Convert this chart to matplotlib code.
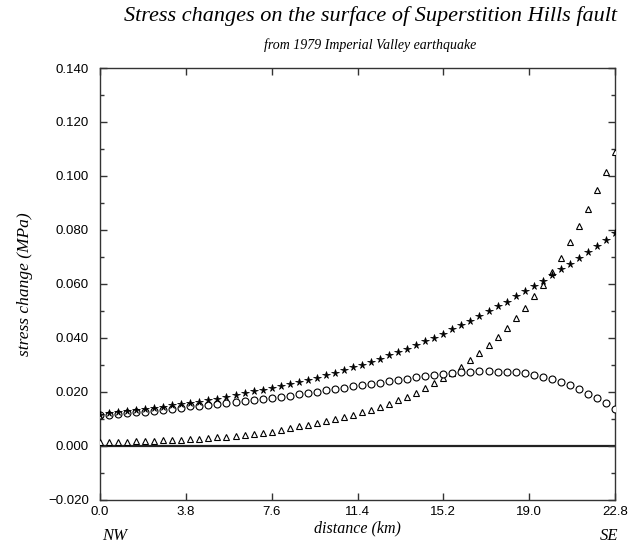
import matplotlib
matplotlib.use("Agg")
import matplotlib.pyplot as plt
import numpy as np
from matplotlib.ticker import MultipleLocator, FuncFormatter

# distance along fault, every 0.4 km from NW (0) to SE (22.8)
distance = np.arange(58) * 0.4

# stress change (MPa), one value per point
stars = [0.0115, 0.0120, 0.0124, 0.0127, 0.0131, 0.0135, 0.0140, 0.0144, 0.0149, 0.0154,
         0.0158, 0.0163, 0.0168, 0.0174, 0.0180, 0.0187, 0.0194, 0.0201, 0.0207, 0.0214,
         0.0220, 0.0228, 0.0236, 0.0244, 0.0252, 0.0261, 0.0270, 0.0280, 0.0290, 0.0300,
         0.0311, 0.0322, 0.0334, 0.0346, 0.0358, 0.0372, 0.0386, 0.0400, 0.0415, 0.0431,
         0.0446, 0.0463, 0.0481, 0.0499, 0.0516, 0.0534, 0.0553, 0.0572, 0.0593, 0.0612,
         0.0633, 0.0654, 0.0675, 0.0696, 0.0719, 0.0741, 0.0764, 0.0788]

circles = [0.0112, 0.0115, 0.0117, 0.0120, 0.0123, 0.0126, 0.0130, 0.0133, 0.0137, 0.0141,
           0.0145, 0.0148, 0.0152, 0.0155, 0.0158, 0.0161, 0.0164, 0.0168, 0.0171, 0.0175,
           0.0180, 0.0185, 0.0190, 0.0195, 0.0200, 0.0205, 0.0210, 0.0215, 0.0220, 0.0225,
           0.0229, 0.0233, 0.0238, 0.0243, 0.0248, 0.0253, 0.0257, 0.0262, 0.0266, 0.0269,
           0.0272, 0.0274, 0.0275, 0.0275, 0.0274, 0.0274, 0.0272, 0.0268, 0.0261, 0.0254,
           0.0246, 0.0236, 0.0224, 0.0210, 0.0193, 0.0175, 0.0156, 0.0135]

triangles = [0.0012, 0.0013, 0.0014, 0.0015, 0.0016, 0.0017, 0.0018, 0.0020, 0.0021, 0.0022,
             0.0024, 0.0026, 0.0028, 0.0030, 0.0033, 0.0036, 0.0039, 0.0043, 0.0047, 0.0052,
             0.0058, 0.0064, 0.0071, 0.0078, 0.0085, 0.0092, 0.0100, 0.0107, 0.0115, 0.0124,
             0.0133, 0.0143, 0.0155, 0.0168, 0.0181, 0.0196, 0.0213, 0.0231, 0.0249, 0.0270,
             0.0292, 0.0316, 0.0343, 0.0372, 0.0403, 0.0436, 0.0473, 0.0511, 0.0553, 0.0596,
             0.0644, 0.0697, 0.0756, 0.0815, 0.0878, 0.0946, 0.1015, 0.1090]

x_ticks = [0.0, 3.8, 7.6, 11.4, 15.2, 19.0, 22.8]

serif = ["Liberation Serif", "DejaVu Serif"]
plt.rcParams["font.family"] = ["Liberation Sans", "DejaVu Sans"]

fig = plt.figure(figsize=(6.44, 5.45), dpi=100)
ax = fig.add_axes([100 / 644, 1 - 499.5 / 545, 515 / 644, 431.5 / 545])

# zero line
ax.axhline(0.0, color="#222222", linewidth=1.6, zorder=1)

# the three series
ax.plot(distance, triangles, linestyle="none", marker="^", markersize=5,
        markerfacecolor="white", markeredgecolor="black", markeredgewidth=0.8, zorder=3)
ax.plot(distance, circles, linestyle="none", marker="o", markersize=5,
        markerfacecolor="white", markeredgecolor="black", markeredgewidth=0.8, zorder=3)
ax.plot(distance, stars, linestyle="none", marker="*", markersize=5.5,
        color="black", markeredgewidth=0.5, zorder=4)

ax.set_xlim(0, 22.8)
ax.set_ylim(-0.02, 0.14)
ax.set_xticks(x_ticks)
ax.xaxis.set_major_formatter(FuncFormatter(lambda v, p: f"{v:.1f}"))
ax.yaxis.set_major_locator(MultipleLocator(0.02))
ax.yaxis.set_minor_locator(MultipleLocator(0.01))
ax.yaxis.set_major_formatter(FuncFormatter(lambda v, p: f"{v:.3f}".replace("-", "\u2212")))

ax.tick_params(axis="both", which="both", direction="in", top=True, right=True,
               color="#333333", labelsize=9.5)
ax.tick_params(axis="both", which="major", length=5, width=1)
ax.tick_params(axis="y", which="minor", length=3, width=1)
ax.tick_params(axis="y", pad=8)
ax.tick_params(axis="x", pad=5)

for sp in ax.spines.values():
    sp.set_color("#333333")
    sp.set_linewidth(1.0)

# labels
ax.set_ylabel("stress change (MPa)", family=serif, style="italic", fontsize=12.5, labelpad=11)
fig.text(357 / 644, 1 - 528 / 545, "distance (km)", family=serif, style="italic",
         fontsize=11.5, ha="center", va="center")
fig.text(115 / 644, 1 - 536 / 545, "NW", family=serif, style="italic",
         fontsize=12, ha="center", va="center")
fig.text(609 / 644, 1 - 536 / 545, "SE", family=serif, style="italic",
         fontsize=12, ha="center", va="center")

fig.text(371 / 644, 1 - 16 / 545, "Stress changes on the surface of Superstition Hills fault",
         family=serif, style="italic", fontsize=16, ha="center", va="center")
fig.text(370 / 644, 1 - 45 / 545, "from 1979 Imperial Valley earthquake",
         family=serif, style="italic", fontsize=10, ha="center", va="center")

fig.savefig("out.png", dpi=100)
